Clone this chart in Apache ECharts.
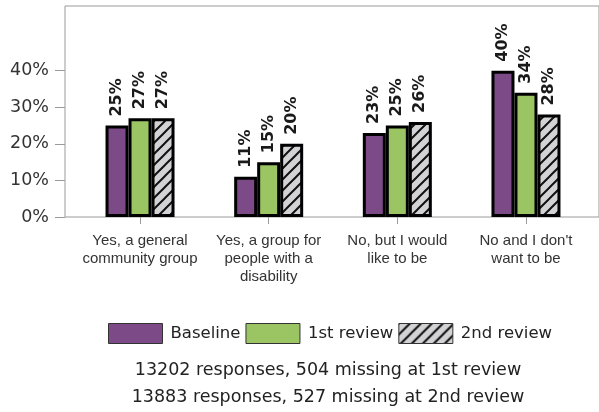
<!DOCTYPE html>
<html>
<head>
<meta charset="utf-8">
<script src="https://cdn.jsdelivr.net/npm/echarts@6/dist/echarts.min.js"></script>
<style>
html,body{margin:0;padding:0;background:#fff;}
#chart{width:599px;height:412px;}
</style>
</head>
<body>
<div id="chart"></div>
<script>
const categories = ['Yes, a general\ncommunity group', 'Yes, a group for\npeople with a\ndisability', 'No, but I would\nlike to be', "No and I don't\nwant to be"];
const seriesNames = ['Baseline', '1st review', '2nd review'];
const baseline = [25, 11, 23, 40];
const review1 = [27, 15, 25, 34];
const review2 = [27, 20, 26, 28];
const yTicks = [0, 10, 20, 30, 40];
const footnotes = ['13202 responses, 504 missing at 1st review', '13883 responses, 527 missing at 2nd review'];

function hatch() {
  const s = 11;
  const c = document.createElement('canvas');
  c.width = s; c.height = s;
  const g = c.getContext('2d');
  g.fillStyle = '#d3d3d5';
  g.fillRect(0, 0, s, s);
  g.strokeStyle = '#111';
  g.lineWidth = 2;
  g.beginPath();
  g.moveTo(-2, s + 2); g.lineTo(s + 2, -2);
  g.moveTo(-2, 2); g.lineTo(2, -2);
  g.moveTo(s - 2, s + 2); g.lineTo(s + 2, s - 2);
  g.stroke();
  return c;
}

const chart = echarts.init(document.getElementById('chart'), null, {renderer: 'canvas'});
const colors = ['#7d4a88', '#9bc563', {image: hatch(), repeat: 'repeat'}];
const values = [baseline, review1, review2];
const YMAX = 57.7;

const labelStyle = {
  show: true, position: 'top', rotate: 90, align: 'left', verticalAlign: 'middle',
  distance: 9, fontFamily: 'DejaVu Sans', fontWeight: 'bold', fontSize: 16, color: '#1a1a1a',
  formatter: '{c}%'
};

chart.setOption({
  animation: false,
  grid: [
    {left: 65, top: 6, right: -4, bottom: 195, show: true, borderColor: '#9a9a9a', borderWidth: 1, backgroundColor: 'transparent'},
    {left: 75.7, top: 6, right: 8.7, bottom: 195}
  ],
  xAxis: [
    {type: 'value', gridIndex: 0, show: false, min: 0, max: 1},
    {type: 'category', gridIndex: 1, data: categories,
     axisLine: {show: false},
     axisTick: {show: true, alignWithLabel: true, length: 7, lineStyle: {color: '#9a9a9a'}},
     axisLabel: {margin: 15, fontFamily: 'Liberation Sans', fontSize: 15, lineHeight: 18, color: '#333', interval: 0}}
  ],
  yAxis: [
    {type: 'value', gridIndex: 0, min: 0, max: YMAX,
     axisLine: {show: false},
     splitLine: {show: false},
     axisTick: {show: true, length: 10, lineStyle: {color: '#9a9a9a'}, customValues: yTicks},
     axisLabel: {margin: 16, fontFamily: 'DejaVu Sans', fontSize: 17.5, color: '#333', customValues: yTicks, formatter: '{value}%'}},
    {type: 'value', gridIndex: 1, min: 0, max: YMAX, show: false, splitLine: {show: false}}
  ],
  legend: {
    data: seriesNames, top: 323, left: 108, padding: 0, icon: 'rect',
    itemWidth: 54, itemHeight: 20, itemGap: 5,
    itemStyle: {borderWidth: 1, borderColor: '#333'},
    textStyle: {fontFamily: 'DejaVu Sans', fontSize: 16.5, color: '#222', padding: [0, 0, 0, 3]}
  },
  graphic: footnotes.map((t, i) => ({
    type: 'text', x: 328, y: 370 + i * 27,
    style: {text: t, fontFamily: 'DejaVu Sans', fontSize: 17.5, fill: '#222', align: 'center', verticalAlign: 'middle'}
  })),
  series: seriesNames.map((n, i) => ({
    name: n, type: 'bar', xAxisIndex: 1, yAxisIndex: 1,
    data: values[i], barWidth: 23, barGap: '0%',
    itemStyle: {color: colors[i], borderColor: '#000', borderWidth: 3},
    label: labelStyle
  }))
});
</script>
</body>
</html>
